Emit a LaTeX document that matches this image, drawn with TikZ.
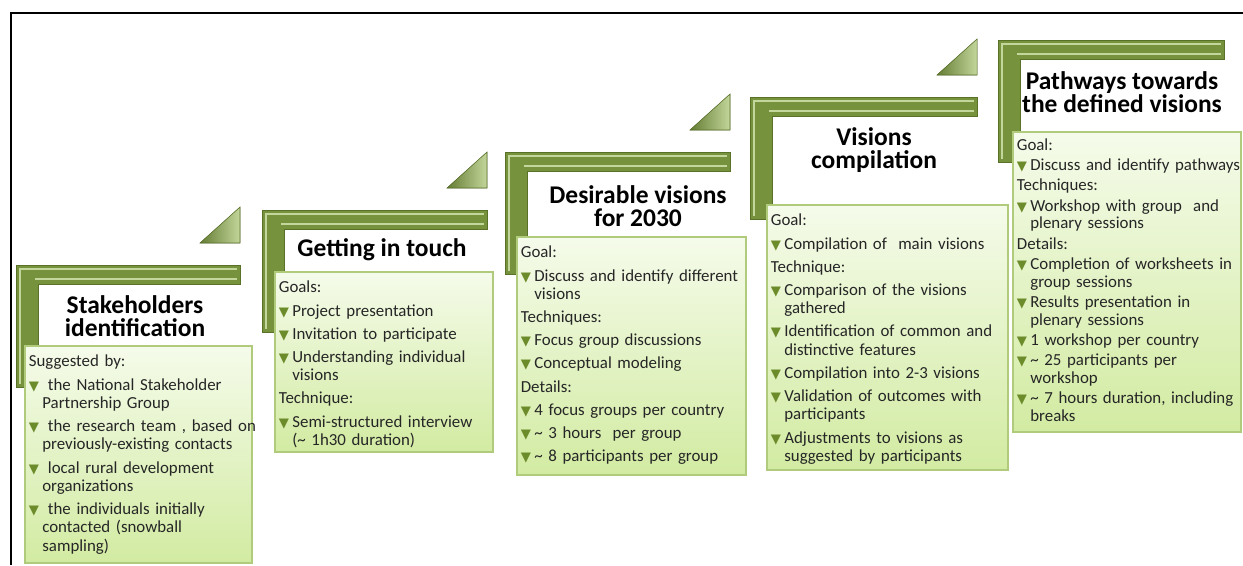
\documentclass[tikz,border=0pt]{standalone}
\usepackage{fontspec}
\setmainfont{Carlito}
\newfontfamily\symfont{DejaVu Sans}

\definecolor{barolive}{HTML}{76923C}
\definecolor{barlight}{HTML}{C3D69B}
\definecolor{bardark}{HTML}{5A7228}
\definecolor{panetop}{HTML}{F5FBEA}
\definecolor{panebot}{HTML}{D2EBA2}
\definecolor{paneline}{HTML}{AFCB7B}
\definecolor{tickgreen}{HTML}{6C8B2A}

% bullet, heading line and bullet item for the panes
\newcommand\tick{{\symfont\color{tickgreen}\fontsize{7.5}{6}\selectfont ▼}}
\newcommand\hd[1]{\par\noindent#1\par}
\newcommand\itm[1]{\par\noindent\hangindent=0.8em\hangafter=1\makebox[0.8em][l]{\tick}#1\par}
\newcommand\tl{\textasciitilde}

\tikzset{
  bar/.style={fill=barolive, draw=bardark, line width=0.3pt},
  barhi/.style={draw=barlight, line width=1.1pt},
  wedge/.style={left color=barolive!85!black, right color=barlight, draw=bardark, line width=0.3pt},
  pane/.style={top color=panetop, bottom color=panebot, draw=paneline, line width=0.6pt},
  panetext/.style={anchor=north west, inner xsep=2pt, inner ysep=0pt, yshift=1.5pt,
    text width=145pt, align=left,
    font={\fontsize{9.6}{10.4}\selectfont\setlength{\parskip}{2.8pt}}, text=black!85},
  title/.style={align=center, font=\fontsize{14.5}{13}\selectfont\bfseries},
}

\begin{document}
\begin{tikzpicture}[x=0.02cm,y=-0.02cm]
\useasboundingbox (0,0) rectangle (1243,565);

% frame
\draw [line width=1.1pt] (11,565) -- (11,13) -- (1243,13);

% green corner brackets, left / top / right
\foreach \l/\t/\r in {16/265/240, 262/210/487, 505/152/730, 750/97/977, 998/40/1224} {
  \filldraw [bar] (\l,\t) -- (\r,\t) -- (\r,\t+19) -- (\l+22,\t+19) -- (\l+22,\t+122) -- (\l,\t+122) -- cycle;
  \draw [barhi] (\l+3,\t+4) -- (\r-3,\t+4);
  \draw [barhi] (\l+19,\t+14) -- (\r-3,\t+14);
  \draw [barhi, line width=0.7pt] (\l+4,\t+5) -- (\l+4,\t+119);
}

% small wedges above the bracket ends
\foreach \r/\b in {240/243, 487/188, 730/130, 977/75} {
  \filldraw [wedge] (\r-40,\b) -- (\r,\b) -- (\r,\b-36) -- cycle;
}

% panes
\path [pane] (25,346) rectangle (252,563);
\path [pane] (275,272) rectangle (493,452);
\path [pane] (517,237) rectangle (746,475);
\path [pane] (767,205) rectangle (1008,470);
\path [pane] (1013,132) rectangle (1241,432);

% step titles
\node [title] (t1) at (135,316) {Stakeholders\\identification};
\node [title] (t2) at (382,250) {Getting in touch};
\node [title] (t3) at (638,206) {Desirable visions\\for 2030};
\node [title] (t4) at (874,150) {Visions\\compilation};
\node [title] (t5) at (1122,92) {Pathways towards\\the defined visions};

% pane texts
\node [panetext] (p1) at (25,346) {%
  \hd{Suggested by:}
  \itm{\ the National Stakeholder\newline Partnership Group}
  \itm{\ the research team , based on\newline previously-existing contacts}
  \itm{\ local rural development\newline organizations}
  \itm{\ the individuals initially\newline contacted (snowball\newline sampling)}};

\node [panetext] (p2) at (275,272) {%
  \hd{Goals:}
  \itm{Project presentation}
  \itm{Invitation to participate}
  \itm{Understanding individual\newline visions}
  \hd{Technique:}
  \itm{Semi-structured interview\newline (\tl\ 1h30 duration)}};

\node [panetext] (p3) at (517,237) {%
  \hd{Goal:}
  \itm{Discuss and identify different\newline visions}
  \hd{Techniques:}
  \itm{Focus group discussions}
  \itm{Conceptual modeling}
  \hd{Details:}
  \itm{4 focus groups per country}
  \itm{\tl\ 3 hours\ \ per group}
  \itm{\tl\ 8 participants per group}};

\node [panetext] (p4) at (767,205) {%
  \hd{Goal:}
  \itm{Compilation of\ \ main visions}
  \hd{Technique:}
  \itm{Comparison of the visions\newline gathered}
  \itm{Identification of common and\newline distinctive features}
  \itm{Compilation into 2-3 visions}
  \itm{Validation of outcomes with\newline participants}
  \itm{Adjustments to visions as\newline suggested by participants}};

\node [panetext, font={\fontsize{9.6}{10}\selectfont\setlength{\parskip}{1.6pt}}] (p5) at (1013,132) {%
  \hd{Goal:}
  \itm{Discuss and identify pathways}
  \hd{Techniques:}
  \itm{Workshop with group\ \ and\newline plenary sessions}
  \hd{Details:}
  \itm{Completion of worksheets in\newline group sessions}
  \itm{Results presentation in\newline plenary sessions}
  \itm{1 workshop per country}
  \itm{\tl\ 25 participants per\newline workshop}
  \itm{\tl\ 7 hours duration, including\newline breaks}};
\end{tikzpicture}
\end{document}
